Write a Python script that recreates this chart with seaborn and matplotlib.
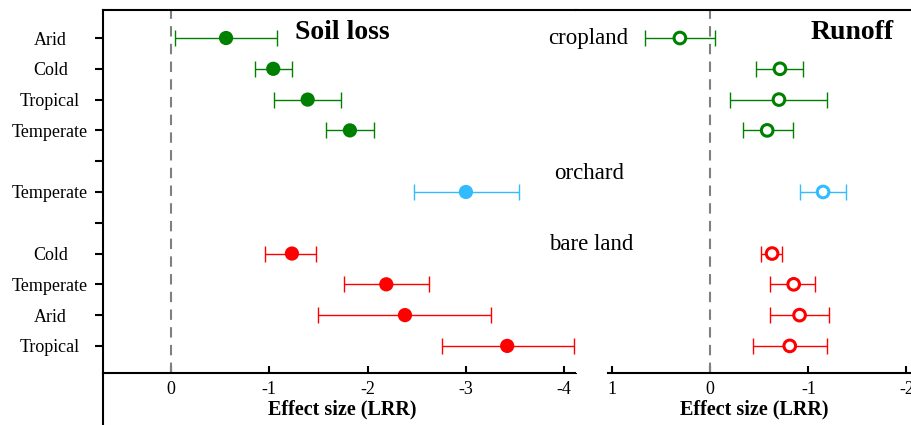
import numpy as np
import pandas as pd
import matplotlib
matplotlib.use("Agg")
import matplotlib.pyplot as plt
import seaborn as sns
from matplotlib.lines import Line2D

# ---------------- data ----------------
land_uses = ["cropland", "orchard", "bare land"]
cropland_climates = ["Arid", "Cold", "Tropical", "Temperate"]
orchard_climates = ["Temperate"]
bare_climates = ["Cold", "Temperate", "Arid", "Tropical"]

soil_mean = [-0.56, -1.04, -1.39, -1.82, -3.00, -1.23, -2.19, -2.38, -3.42]
soil_low = [-0.04, -0.85, -1.05, -1.58, -2.47, -0.96, -1.76, -1.50, -2.76]
soil_high = [-1.08, -1.23, -1.73, -2.06, -3.54, -1.47, -2.62, -3.26, -4.10]

runoff_mean = [0.31, -0.71, -0.70, -0.58, -1.15, -0.63, -0.85, -0.91, -0.81]
runoff_low = [0.67, -0.47, -0.20, -0.33, -0.91, -0.52, -0.61, -0.61, -0.44]
runoff_high = [-0.05, -0.95, -1.19, -0.84, -1.38, -0.73, -1.07, -1.21, -1.19]

left_ticks = [0, -1, -2, -3, -4]
right_ticks = [1, 0, -1, -2]
colors = {"cropland": "#008000", "orchard": "#33BBFF", "bare land": "#FF0000"}

# ---------------- build table ----------------
groups = [cropland_climates, orchard_climates, bare_climates]
rows = []
pos = 0
ytick_pos, ytick_lab = [], []
k = 0
for gi, (lu, clims) in enumerate(zip(land_uses, groups)):
    if gi > 0:
        ytick_pos.append(pos)
        ytick_lab.append("")
        pos += 1
    for c in clims:
        rows.append(dict(land_use=lu, climate=c, pos=pos,
                         soil=soil_mean[k], soil_lo=soil_low[k], soil_hi=soil_high[k],
                         runoff=runoff_mean[k], run_lo=runoff_low[k], run_hi=runoff_high[k]))
        ytick_pos.append(pos)
        ytick_lab.append(c)
        pos += 1
        k += 1
df = pd.DataFrame(rows)

# ---------------- style ----------------
sns.set_theme(style="white")
plt.rcParams["font.family"] = ["Liberation Serif", "DejaVu Serif"]
plt.rcParams["axes.unicode_minus"] = False
plt.rcParams["text.color"] = "black"
plt.rcParams["axes.labelcolor"] = "black"
plt.rcParams["xtick.color"] = "black"
plt.rcParams["ytick.color"] = "black"

W, H = 911, 425
fig = plt.figure(figsize=(W / 100, H / 100), dpi=100)
top_px, bot_px = 10, 373
ax1 = fig.add_axes([103 / W, (H - bot_px) / H, (576 - 103) / W, (bot_px - top_px) / H])
ax2 = fig.add_axes([576 / W, (H - bot_px) / H, (W - 576) / W, (bot_px - top_px) / H])

ylim = (10.88, -0.91)
ax1.set_xlim(0.692, -4.12)
ax2.set_xlim(1.369, -2.046)

def draw(ax, col, lo, hi, filled):
    for lu in land_uses:
        sub = df[df.land_use == lu]
        m = sub[col].values
        a = np.minimum(sub[lo].values, sub[hi].values)
        b = np.maximum(sub[lo].values, sub[hi].values)
        ax.errorbar(m, sub["pos"].values, xerr=[m - a, b - m], fmt="none",
                    ecolor=colors[lu], elinewidth=1.0, capsize=5.5, capthick=1.0, zorder=2)
    sns.scatterplot(data=df, x=col, y="pos", hue="land_use", palette=colors,
                    hue_order=land_uses, s=105 if filled else 70, legend=False, ax=ax,
                    linewidth=0 if filled else 2.2, zorder=3)
    coll = ax.collections[-1]
    if not filled:
        fc = coll.get_facecolors()
        coll.set_edgecolors(fc)
        coll.set_facecolors("white")
    ax.axvline(0, color="#808080", lw=1.5, ls=(0, (5, 3.5)), zorder=1)

draw(ax1, "soil", "soil_lo", "soil_hi", True)
draw(ax2, "runoff", "run_lo", "run_hi", False)

for ax in (ax1, ax2):
    ax.set_ylim(*ylim)
    ax.set_ylabel("")
    for s in ax.spines.values():
        s.set_linewidth(1.5)
        s.set_color("black")
    ax.spines["right"].set_visible(False)
    ax.tick_params(axis="x", direction="in", length=5, width=1.5, pad=6,
                   labelsize=13, colors="black", bottom=True)
    ax.set_xlabel("Effect size (LRR)", fontsize=14.5, fontweight="bold", color="black")

ax1.set_xticks(left_ticks)
ax1.set_xticklabels([str(t) for t in left_ticks])
ax2.set_xticks(right_ticks)
ax2.set_xticklabels([str(t) for t in right_ticks])

ax1.set_yticks(ytick_pos)
ax1.set_yticklabels(ytick_lab)
ax1.tick_params(axis="y", direction="out", length=6, width=1.5, pad=32,
                labelsize=13, colors="black", left=True)
for t in ax1.get_yticklabels():
    t.set_ha("center")

ax2.spines["left"].set_visible(False)
ax2.set_yticks([])
ax2.spines["bottom"].set_bounds(-2.1, 1.04)

ax1.xaxis.set_label_coords((342 - 103) / 473, -0.072)
ax2.xaxis.set_label_coords((754 - 576) / 335, -0.072)
ax1.xaxis.label.set_va("top")
ax2.xaxis.label.set_va("top")

# left spine extension below the axis
fig.add_artist(Line2D([103 / W, 103 / W], [0, (H - bot_px) / H],
                      transform=fig.transFigure, color="black", lw=1.5))

# panel titles and group labels
def ftext(x, y, s, **kw):
    fig.text(x / W, 1 - y / H, s, color="black", **kw)

ftext(342, 39, "Soil loss", fontsize=20, fontweight="bold", ha="center", va="baseline")
ftext(852, 39, "Runoff", fontsize=20, fontweight="bold", ha="center", va="baseline")
ftext(588, 44, "cropland", fontsize=16.5, ha="center", va="baseline")
ftext(589, 179, "orchard", fontsize=16.5, ha="center", va="baseline")
ftext(591, 250, "bare land", fontsize=16.5, ha="center", va="baseline")

fig.savefig("out.png", dpi=100)
